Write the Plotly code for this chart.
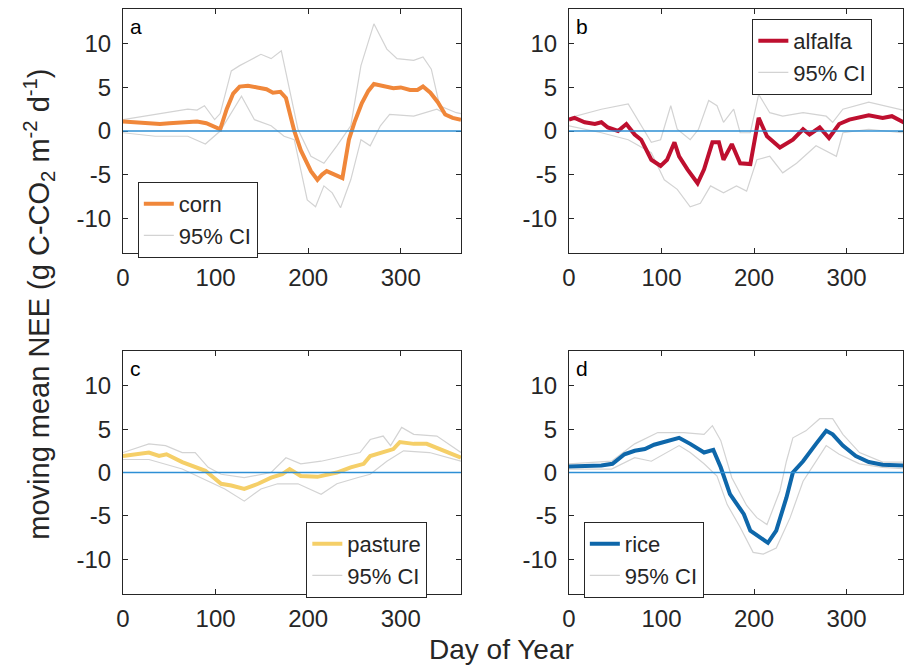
import plotly.graph_objects as go

# ---------------- data ----------------
corn_day = [0,10,20,30,40,50,60,70,80,90,97,105,112,119,126,135,145,155,162,170,176,185,192,198,203,210,215,220,226,232,237,244,250,258,265,271,278,285,292,300,310,318,324,332,340,348,356,365]
corn_mean = [1.1,1.0,0.9,0.9,0.8,0.9,1.0,1.0,1.1,0.9,0.6,0.2,2.5,4.3,5.1,5.2,5.0,4.8,4.4,4.5,3.8,0.0,-2.2,-3.6,-4.6,-5.6,-5.0,-4.6,-4.9,-5.2,-5.4,-1.0,1.0,3.2,4.6,5.4,5.2,5.1,4.9,5.0,4.7,4.7,5.1,4.4,3.3,1.9,1.5,1.3]
corn_up_day = [0,35,70,80,88,99,105,117,126,135,149,160,171,176,189,203,217,231,246,257,271,285,296,314,324,333,342,360,365]
corn_up = [1.3,1.9,2.5,2.4,2.9,1.3,2.0,6.9,7.5,8.0,8.8,8.3,9.2,6.7,0.2,-2.9,-3.7,-1.7,0.6,7.5,12.3,9.4,8.3,8.1,8.5,7.1,2.9,2.1,2.0]
corn_lo_day = [0,35,70,89,105,128,142,160,174,185,199,208,217,226,235,246,257,267,278,288,314,339,360,365]
corn_lo = [-0.2,-0.6,-0.6,-1.5,0.0,4.0,1.3,0.6,-0.6,-1.0,-7.9,-8.7,-6.3,-7.1,-8.8,-5.6,-1.0,-1.7,0.6,1.9,1.7,2.5,1.3,1.3]

alf_day = [0,6,17,28,35,42,53,62,71,78,89,99,106,114,119,128,139,146,155,162,167,176,185,196,205,214,228,242,253,260,271,281,292,303,324,339,349,360,365]
alf_mean = [1.3,1.5,1.0,0.8,1.0,0.4,0.0,0.8,-0.4,-1.0,-3.3,-4.0,-3.3,-1.3,-2.9,-4.4,-6.0,-4.4,-1.3,-1.3,-3.3,-1.5,-3.7,-3.8,1.5,-0.6,-1.9,-1.0,0.2,-0.4,0.4,-0.8,0.8,1.3,1.8,1.5,1.7,1.0,0.8]
alf_up_day = [0,35,64,74,89,99,110,117,131,140,151,160,167,178,185,196,205,217,231,253,267,278,285,296,324,360,365]
alf_up = [1.5,2.5,3.1,1.3,-1.3,-1.0,2.9,0.2,-1.0,0.2,3.5,2.9,1.0,2.5,-0.2,-0.2,4.2,2.1,1.7,2.1,1.9,1.7,1.0,2.5,3.3,2.5,2.3]
alf_lo_day = [0,35,64,89,103,117,131,142,153,167,181,192,203,217,231,246,267,289,296,324,360,365]
alf_lo = [0.6,-0.2,-1.0,-2.5,-5.6,-6.7,-8.7,-8.3,-6.3,-7.1,-6.3,-6.9,-3.3,-2.9,-4.8,-3.7,-1.7,-2.9,-0.2,0.2,-0.2,-0.2]

pas_day = [0,28,39,47,64,89,106,117,131,146,160,172,180,192,210,231,246,260,267,285,292,299,314,328,342,365]
pas_mean = [1.9,2.3,1.9,2.1,1.2,0.2,-1.3,-1.5,-1.9,-1.3,-0.6,-0.2,0.4,-0.4,-0.5,0.0,0.6,1.0,1.9,2.5,2.7,3.5,3.3,3.3,2.7,1.7]
pas_up_day = [0,28,46,64,78,92,106,131,160,176,192,214,231,256,267,281,289,301,314,339,365]
pas_up = [2.3,3.3,3.1,2.3,2.3,0.6,-0.2,-0.6,0.0,1.7,1.0,1.3,1.7,2.3,3.8,4.2,3.1,5.2,4.4,4.2,2.3]
pas_lo_day = [0,28,64,89,110,131,149,167,189,214,231,253,267,285,303,331,365]
pas_lo = [1.5,1.5,0.4,-0.8,-1.9,-3.3,-1.9,-1.3,-1.3,-2.5,-1.3,-0.6,-0.2,1.3,2.5,2.3,1.3]

rice_day = [0,35,47,60,71,82,92,106,119,131,146,156,164,174,189,196,205,215,224,235,242,253,267,278,285,296,310,324,339,360,365]
rice_mean = [0.7,0.8,1.0,2.1,2.5,2.7,3.2,3.6,4.0,3.3,2.3,2.6,0.6,-2.5,-4.8,-6.7,-7.3,-8.1,-6.7,-2.9,0.0,1.3,3.3,4.8,4.4,3.1,1.9,1.2,0.9,0.8,0.8]
rice_up_day = [0,46,71,96,124,146,155,164,176,192,203,214,228,235,242,256,271,285,296,314,339,360,365]
rice_up = [1.0,1.3,3.3,4.6,4.6,4.4,5.4,3.7,-0.6,-3.8,-5.2,-6.0,-2.1,1.3,4.0,4.8,6.2,6.2,4.4,2.3,1.2,1.2,1.2]
rice_lo_day = [0,46,71,89,119,131,146,160,171,185,199,210,224,239,253,267,278,292,314,339,360,365]
rice_lo = [0.4,0.4,1.7,1.3,3.1,2.3,1.0,-0.4,-3.7,-6.3,-9.2,-9.4,-8.7,-5.2,-1.0,1.3,3.1,2.1,1.0,0.6,0.4,0.4]

names = ["corn", "alfalfa", "pasture", "rice"]
letters = ["a", "b", "c", "d"]
colors = ["#F0873A", "#BE0F2F", "#F5CF68", "#0E67AA"]
x_ticks = [0, 100, 200, 300]
x_tick_text = ["0", "100", "200", "300"]
y_ticks = [-10, -5, 0, 5, 10]
y_tick_text = ["-10", "-5", "0", "5", "10"]

panels = [
    (corn_day, corn_mean, corn_up_day, corn_up, corn_lo_day, corn_lo),
    (alf_day, alf_mean, alf_up_day, alf_up, alf_lo_day, alf_lo),
    (pas_day, pas_mean, pas_up_day, pas_up, pas_lo_day, pas_lo),
    (rice_day, rice_mean, rice_up_day, rice_up, rice_lo_day, rice_lo),
]

# ---------------- layout geometry ----------------
W, H = 904, 666
FONT = "Liberation Sans, Arial, Helvetica, sans-serif"
TXT = "#262626"
xdom = [[117 / W, 458 / W], [567 / W, 1.0], [117 / W, 458 / W], [567 / W, 1.0]]
ydom = [[1 - 253 / H, 1 - 9 / H], [1 - 253 / H, 1 - 9 / H],
        [1 - 594 / H, 1 - 351 / H], [1 - 594 / H, 1 - 351 / H]]
xranges = [[0, 365], [0, 361], [0, 365], [0, 361]]
legpos = [(132 / W, 1 - 182 / H), (752 / W, 1 - 19 / H),
          (302 / W, 1 - 522 / H), (582 / W, 1 - 522 / H)]

fig = go.Figure()
layout = {}
for i, (d, m, ud, u, ld, lo) in enumerate(panels):
    sfx = "" if i == 0 else str(i + 1)
    xa, ya, lg = "x" + sfx, "y" + sfx, "legend" + sfx
    fig.add_trace(go.Scatter(x=ld, y=lo, mode="lines", xaxis=xa, yaxis=ya,
                             line=dict(color="#D3D3D3", width=1.2),
                             showlegend=False, legend=lg, hoverinfo="skip"))
    fig.add_trace(go.Scatter(x=ud, y=u, mode="lines", xaxis=xa, yaxis=ya,
                             line=dict(color="#D3D3D3", width=1.2),
                             name="95% CI", legend=lg))
    fig.add_trace(go.Scatter(x=d, y=m, mode="lines", xaxis=xa, yaxis=ya,
                             line=dict(color=colors[i], width=4),
                             name=names[i], legend=lg))
    axcommon = dict(showline=True, linecolor=TXT, linewidth=1, mirror="ticks",
                    ticks="inside", ticklen=5, tickcolor=TXT, showgrid=False,
                    zeroline=False, tickfont=dict(family=FONT, size=24, color=TXT))
    layout["xaxis" + sfx] = dict(domain=xdom[i], range=xranges[i], anchor=ya,
                                 tickvals=x_ticks, ticktext=x_tick_text,
                                 ticklabelstandoff=3, **axcommon)
    layout["yaxis" + sfx] = dict(domain=ydom[i], range=[-14, 14], anchor=xa,
                                 tickvals=y_ticks, ticktext=y_tick_text,
                                 ticklabelstandoff=6, **axcommon)
    layout[lg] = dict(x=legpos[i][0], y=legpos[i][1], xanchor="left", yanchor="top",
                      bgcolor="white", bordercolor=TXT, borderwidth=1,
                      traceorder="reversed", tracegroupgap=0,
                      font=dict(family=FONT, size=22, color=TXT))
    fig.add_shape(type="line", xref=xa + " domain", yref=ya, x0=0, x1=1, y0=0, y1=0,
                  line=dict(color="#2D8FD5", width=1.3))
    fig.add_annotation(text=letters[i], xref=xa + " domain", yref=ya + " domain",
                       x=0.015, y=0.985, xanchor="left", yanchor="top", showarrow=False,
                       font=dict(family=FONT, size=21, color="black"))

fig.add_annotation(text="Day of Year", xref="paper", yref="paper", x=499 / W, y=1 - 649 / H,
                   xanchor="center", yanchor="middle", showarrow=False,
                   font=dict(family=FONT, size=28, color=TXT))
fig.add_annotation(text="moving mean NEE (g C-CO<sub>2</sub> m<sup>-2</sup> d<sup>-1</sup>)",
                   xref="paper", yref="paper", x=32 / W, y=1 - 304 / H, textangle=-90,
                   xanchor="center", yanchor="middle", showarrow=False,
                   font=dict(family=FONT, size=29, color=TXT))

fig.update_layout(width=W, height=H, margin=dict(l=0, r=0, t=0, b=0),
                  plot_bgcolor="white", paper_bgcolor="white", **layout)
fig.write_html("out.html", config={"displayModeBar": False},
               post_script="document.body.style.margin='0';")
